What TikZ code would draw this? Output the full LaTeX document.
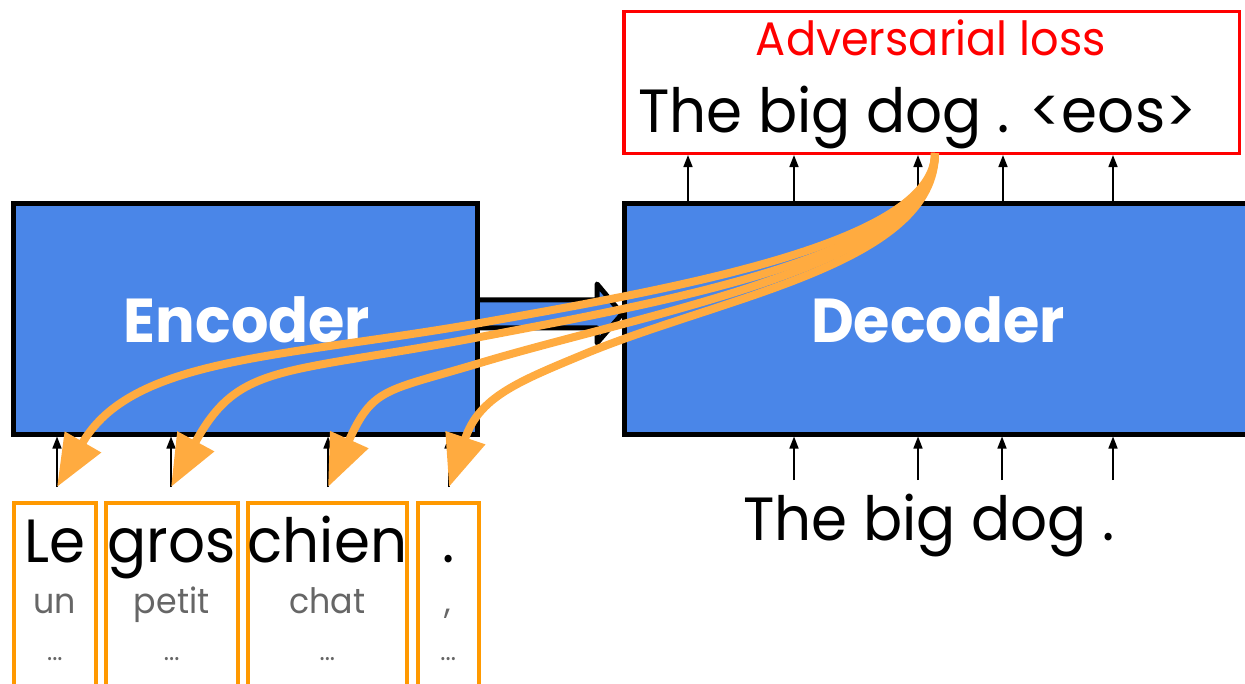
\documentclass[tikz,border=0pt]{standalone}
\usepackage{fontspec}
\setmainfont{Poppins}[FakeStretch=0.95]
\usetikzlibrary{arrows.meta,calc}
\definecolor{blockblue}{HTML}{4A86E8}
\definecolor{lossred}{HTML}{FF0000}
\definecolor{wordorange}{HTML}{FF9900}
\definecolor{attnorange}{HTML}{FFAB40}
\definecolor{altgrey}{HTML}{666666}

\begin{document}
\begin{tikzpicture}[x=1pt,y=-1pt,
  block/.style={draw=black, fill=blockblue, line width=5pt, inner sep=0pt},
  blockarrow/.style={draw=black, fill=blockblue, line width=5pt, line join=round},
  wordbox/.style={draw=wordorange, line width=4pt, inner sep=0pt},
  lossbox/.style={draw=lossred, line width=3.5pt, inner sep=0pt},
  feed/.style={draw=black, line width=1.6pt, -{Triangle[length=12pt,width=9pt]}},
  attn/.style={draw=attnorange, line width=8pt, -{Triangle[length=52pt,width=40pt]}},
  bigtext/.style={inner sep=0pt, anchor=base, font=\fontsize{61}{68}\selectfont},
  blocklabel/.style={inner sep=0pt, anchor=base, text=white, font=\fontsize{62}{68}\selectfont\bfseries},
  losslabel/.style={inner sep=0pt, anchor=base, text=lossred, font=\fontsize{47}{52}\selectfont},
  alttext/.style={inner sep=0pt, anchor=base, text=altgrey, font=\fontsize{35}{40}\selectfont},
  moretext/.style={inner sep=0pt, anchor=base, text=altgrey, font=\fontsize{26}{30}\selectfont},
]
\useasboundingbox (0,0) rectangle (1245,684);
\clip (0,0) rectangle (1245,684);

% arrow from encoder to decoder (drawn first, boxes overlap its ends)
\path[blockarrow] (470,300) -- (597,300) -- (597,284) -- (622,314)
  -- (597,343) -- (597,328) -- (470,328) -- cycle;

% encoder and decoder blocks
\node[block, minimum width=464.5pt, minimum height=230pt] (enc) at (245.25,319) {};
\node[block, minimum width=636pt, minimum height=230pt] (dec) at (942,319) {};
\node[blocklabel] (enclabel) at (247,343) {Encoder};
\node[blocklabel] (declabel) at (938,343) {Decoder};

% output box with the loss
\node[lossbox, minimum width=615.5pt, minimum height=141.6pt] (loss) at (931.75,82.5) {};
\node[losslabel] (losstitle) at (931,56) {Adversarial loss};
\node[bigtext, anchor=base west] (output) at (638,133) {The big dog . <eos>};

% decoder input
\node[bigtext, anchor=base west] (target) at (743,540) {The big dog .};

% source word boxes with alternatives
\node[wordbox, minimum width=82.3pt, minimum height=217pt] (w1) at (54.85,611.5) {};
\node[wordbox, minimum width=132pt, minimum height=217pt] (w2) at (171.7,611.5) {};
\node[wordbox, minimum width=159.3pt, minimum height=217pt] (w3) at (327.35,611.5) {};
\node[wordbox, minimum width=61pt, minimum height=217pt] (w4) at (448.2,611.5) {};

\node[bigtext] (s1) at (w1.center |- 0,562) {Le};
\node[bigtext] (s2) at (w2.center |- 0,562) {gros};
\node[bigtext] (s3) at (w3.center |- 0,562) {chien};
\node[bigtext] (s4) at (w4.center |- 0,562) {.};

\node[alttext] (a1) at (w1.center |- 0,613) {un};
\node[alttext] (a2) at (w2.center |- 0,613) {petit};
\node[alttext] (a3) at (w3.center |- 0,613) {chat};
\node[alttext] (a4) at (w4.center |- 0,613) {,};

\node[moretext] (m1) at (w1.center |- 0,660) {...};
\node[moretext] (m2) at (w2.center |- 0,660) {...};
\node[moretext] (m3) at (w3.center |- 0,660) {...};
\node[moretext] (m4) at (w4.center |- 0,660) {...};

% encoder inputs
\coordinate (t1) at (57,487);
\coordinate (t2) at (171,487);
\coordinate (t3) at (328,487);
\coordinate (t4) at (449,487);
\foreach \t in {t1,t2,t3,t4}
  \draw[feed] (\t) -- (\t |- enc.south);

% decoder outputs
\foreach \x in {688,794,918,1003,1113}
  \draw[feed] (\x,0 |- dec.north) -- (\x,0 |- loss.south);

% decoder inputs
\foreach \x in {794,918,1002,1113}
  \draw[feed] (\x,480) -- (\x,0 |- dec.south);

% attention from the output back to the source words
\coordinate (fb) at (935,153);
\coordinate (k1) at (480,323);
\coordinate (k2) at (480,337);
\coordinate (k3) at (480,363);
\coordinate (k4) at (587,353);
\draw[attn] (fb) .. controls +(0,90) and +(197,-35) .. (k1)
  .. controls +(-200,35) and +(75,-130) .. (t1);
\draw[attn] (fb) .. controls +(0,100) and +(190,-36) .. (k2)
  .. controls +(-200,38) and +(68,-125) .. (t2);
\draw[attn] (fb) .. controls +(0,110) and +(170,-51) .. (k3)
  .. controls +(-95,28.5) and +(45,-100) .. (t3);
\draw[attn] (fb) .. controls +(0,110) and +(139,-57) .. (k4)
  .. controls +(-70,29) and +(30,-90) .. (t4);
\end{tikzpicture}
\end{document}
